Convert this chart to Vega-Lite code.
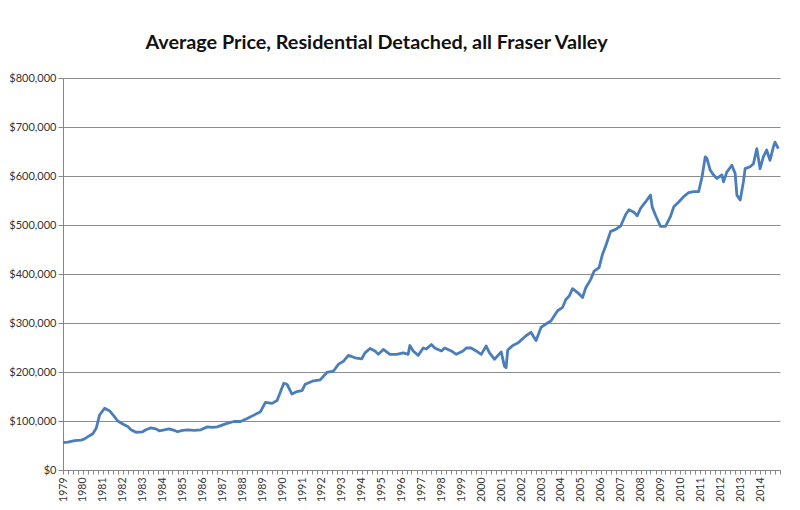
{
  "$schema": "https://vega.github.io/schema/vega-lite/v6.json",
  "autosize": {"type": "none"},
  "width": 717,
  "height": 392,
  "padding": {"left": 63, "top": 78, "right": 20, "bottom": 40},
  "background": "white",
  "title": {
    "text": "Average Price, Residential Detached, all Fraser Valley",
    "font": "Lato",
    "fontSize": 19.8,
    "fontWeight": "bold",
    "color": "#111111",
    "anchor": "middle",
    "dx": -45,
    "offset": 19
  },
  "config": {
    "view": {"stroke": null},
    "axis": {
      "labelFont": "Lato",
      "labelColor": "#333333",
      "domainColor": "#868686",
      "tickColor": "#868686",
      "gridColor": "#8c8c8c",
      "title": null
    }
  },
  "data": {
    "values": [
      {"date": "1979-01-01", "price": 56000},
      {"date": "1979-04-01", "price": 57000},
      {"date": "1979-08-01", "price": 60000},
      {"date": "1979-12-01", "price": 61000},
      {"date": "1980-02-01", "price": 63500},
      {"date": "1980-05-01", "price": 70000},
      {"date": "1980-07-01", "price": 74000},
      {"date": "1980-09-01", "price": 85000},
      {"date": "1980-11-01", "price": 112000},
      {"date": "1981-02-01", "price": 126000},
      {"date": "1981-05-01", "price": 121000},
      {"date": "1981-08-01", "price": 109000},
      {"date": "1981-10-01", "price": 100000},
      {"date": "1982-01-01", "price": 94000},
      {"date": "1982-04-01", "price": 89000},
      {"date": "1982-06-01", "price": 82000},
      {"date": "1982-09-01", "price": 77000},
      {"date": "1983-01-01", "price": 78000},
      {"date": "1983-03-01", "price": 82000},
      {"date": "1983-06-01", "price": 86000},
      {"date": "1983-09-01", "price": 84000},
      {"date": "1983-11-01", "price": 80000},
      {"date": "1984-02-01", "price": 82000},
      {"date": "1984-05-01", "price": 84000},
      {"date": "1984-08-01", "price": 81000},
      {"date": "1984-10-01", "price": 78000},
      {"date": "1985-01-01", "price": 81000},
      {"date": "1985-04-01", "price": 82000},
      {"date": "1985-08-01", "price": 81000},
      {"date": "1985-12-01", "price": 82000},
      {"date": "1986-04-01", "price": 88000},
      {"date": "1986-07-01", "price": 87000},
      {"date": "1986-10-01", "price": 88000},
      {"date": "1987-03-01", "price": 94000},
      {"date": "1987-08-01", "price": 99000},
      {"date": "1987-12-01", "price": 99000},
      {"date": "1988-04-01", "price": 105000},
      {"date": "1988-08-01", "price": 112000},
      {"date": "1988-12-01", "price": 119000},
      {"date": "1989-03-01", "price": 138000},
      {"date": "1989-07-01", "price": 136000},
      {"date": "1989-10-01", "price": 142000},
      {"date": "1990-02-01", "price": 177000},
      {"date": "1990-04-01", "price": 175000},
      {"date": "1990-07-01", "price": 155000},
      {"date": "1990-10-01", "price": 160000},
      {"date": "1991-01-01", "price": 162000},
      {"date": "1991-03-01", "price": 175000},
      {"date": "1991-08-01", "price": 182000},
      {"date": "1991-12-01", "price": 184000},
      {"date": "1992-04-01", "price": 199000},
      {"date": "1992-08-01", "price": 202000},
      {"date": "1992-11-01", "price": 216000},
      {"date": "1993-02-01", "price": 222000},
      {"date": "1993-05-01", "price": 234000},
      {"date": "1993-09-01", "price": 229000},
      {"date": "1994-01-01", "price": 227000},
      {"date": "1994-03-01", "price": 239000},
      {"date": "1994-06-01", "price": 248000},
      {"date": "1994-09-01", "price": 243000},
      {"date": "1994-11-01", "price": 236000},
      {"date": "1995-02-01", "price": 246000},
      {"date": "1995-06-01", "price": 236000},
      {"date": "1995-10-01", "price": 236000},
      {"date": "1996-02-01", "price": 239000},
      {"date": "1996-05-01", "price": 236000},
      {"date": "1996-06-01", "price": 254000},
      {"date": "1996-08-01", "price": 243000},
      {"date": "1996-11-01", "price": 234000},
      {"date": "1997-02-01", "price": 249000},
      {"date": "1997-04-01", "price": 247000},
      {"date": "1997-07-01", "price": 256000},
      {"date": "1997-09-01", "price": 249000},
      {"date": "1998-01-01", "price": 243000},
      {"date": "1998-03-01", "price": 249000},
      {"date": "1998-07-01", "price": 243000},
      {"date": "1998-10-01", "price": 236000},
      {"date": "1999-02-01", "price": 243000},
      {"date": "1999-04-01", "price": 249000},
      {"date": "1999-07-01", "price": 249000},
      {"date": "1999-10-01", "price": 243000},
      {"date": "2000-01-01", "price": 236000},
      {"date": "2000-04-01", "price": 253000},
      {"date": "2000-06-01", "price": 239000},
      {"date": "2000-09-01", "price": 226000},
      {"date": "2001-01-01", "price": 241000},
      {"date": "2001-03-01", "price": 212000},
      {"date": "2001-04-01", "price": 209000},
      {"date": "2001-05-01", "price": 245000},
      {"date": "2001-08-01", "price": 254000},
      {"date": "2001-11-01", "price": 259000},
      {"date": "2002-04-01", "price": 274000},
      {"date": "2002-07-01", "price": 281000},
      {"date": "2002-10-01", "price": 264000},
      {"date": "2003-01-01", "price": 291000},
      {"date": "2003-04-01", "price": 298000},
      {"date": "2003-07-01", "price": 304000},
      {"date": "2003-11-01", "price": 325000},
      {"date": "2004-02-01", "price": 332000},
      {"date": "2004-04-01", "price": 348000},
      {"date": "2004-06-01", "price": 355000},
      {"date": "2004-08-01", "price": 370000},
      {"date": "2004-11-01", "price": 362000},
      {"date": "2005-02-01", "price": 352000},
      {"date": "2005-04-01", "price": 372000},
      {"date": "2005-07-01", "price": 389000},
      {"date": "2005-09-01", "price": 406000},
      {"date": "2005-12-01", "price": 413000},
      {"date": "2006-02-01", "price": 440000},
      {"date": "2006-04-01", "price": 457000},
      {"date": "2006-07-01", "price": 487000},
      {"date": "2006-10-01", "price": 491000},
      {"date": "2007-01-01", "price": 498000},
      {"date": "2007-04-01", "price": 521000},
      {"date": "2007-06-01", "price": 531000},
      {"date": "2007-09-01", "price": 526000},
      {"date": "2007-11-01", "price": 519000},
      {"date": "2008-01-01", "price": 534000},
      {"date": "2008-04-01", "price": 547000},
      {"date": "2008-07-01", "price": 561000},
      {"date": "2008-08-01", "price": 537000},
      {"date": "2008-10-01", "price": 520000},
      {"date": "2009-01-01", "price": 497000},
      {"date": "2009-04-01", "price": 497000},
      {"date": "2009-07-01", "price": 517000},
      {"date": "2009-09-01", "price": 537000},
      {"date": "2009-12-01", "price": 547000},
      {"date": "2010-03-01", "price": 558000},
      {"date": "2010-06-01", "price": 566000},
      {"date": "2010-09-01", "price": 568000},
      {"date": "2010-12-01", "price": 568000},
      {"date": "2011-02-01", "price": 598000},
      {"date": "2011-04-01", "price": 639000},
      {"date": "2011-05-01", "price": 636000},
      {"date": "2011-07-01", "price": 612000},
      {"date": "2011-09-01", "price": 602000},
      {"date": "2011-11-01", "price": 595000},
      {"date": "2012-02-01", "price": 602000},
      {"date": "2012-03-01", "price": 588000},
      {"date": "2012-05-01", "price": 608000},
      {"date": "2012-08-01", "price": 622000},
      {"date": "2012-10-01", "price": 605000},
      {"date": "2012-11-01", "price": 561000},
      {"date": "2013-01-01", "price": 551000},
      {"date": "2013-03-01", "price": 588000},
      {"date": "2013-04-01", "price": 615000},
      {"date": "2013-07-01", "price": 619000},
      {"date": "2013-09-01", "price": 625000},
      {"date": "2013-11-01", "price": 656000},
      {"date": "2014-01-01", "price": 615000},
      {"date": "2014-03-01", "price": 639000},
      {"date": "2014-05-01", "price": 653000},
      {"date": "2014-07-01", "price": 632000},
      {"date": "2014-09-01", "price": 659000},
      {"date": "2014-10-01", "price": 669000},
      {"date": "2014-12-01", "price": 656000}
    ]
  },
  "mark": {"type": "line", "color": "#4a7ebb", "strokeWidth": 2.8, "strokeJoin": "round"},
  "encoding": {
    "x": {
      "field": "date",
      "type": "temporal",
      "scale": {"domain": ["1979-01-01", "2015-01-01"], "nice": false},
      "axis": {
        "grid": false,
        "tickCount": {"interval": "month", "step": 3},
        "labelExpr": "month(datum.value) == 0 && year(datum.value) < 2015 ? timeFormat(datum.value, '%Y') : ''",
        "labelOverlap": false,
        "labelAngle": -90,
        "labelAlign": "right",
        "labelBaseline": "middle",
        "labelFontSize": 10.5,
        "labelPadding": 3,
        "tickSize": 4,
        "labelFlush": false
      }
    },
    "y": {
      "field": "price",
      "type": "quantitative",
      "scale": {"domain": [0, 800000], "nice": false},
      "axis": {
        "values": [0, 100000, 200000, 300000, 400000, 500000, 600000, 700000, 800000],
        "format": "$,.0f",
        "labelFontSize": 11,
        "tickSize": 5,
        "labelPadding": 2,
        "gridWidth": 1
      }
    }
  }
}
